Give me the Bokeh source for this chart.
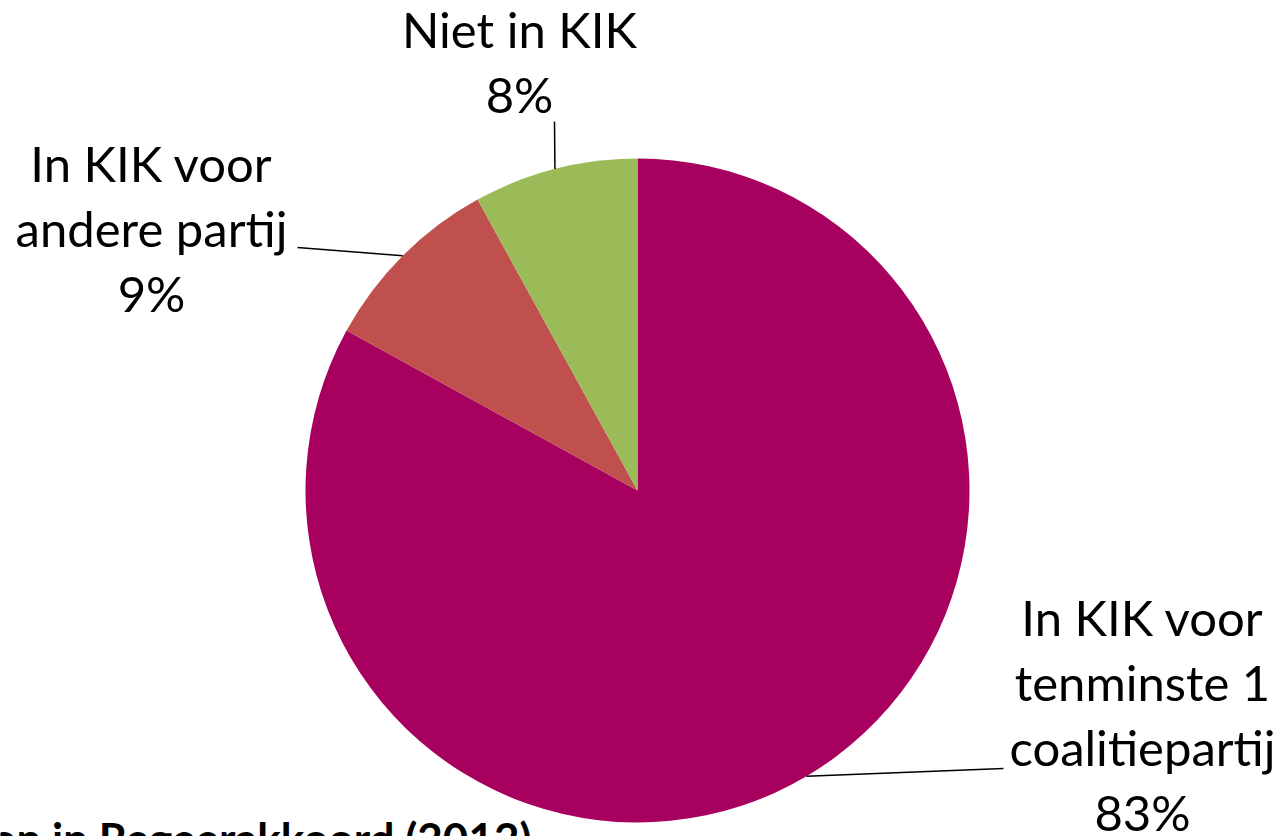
import math
from bokeh.plotting import figure
from bokeh.models import Range1d, ColumnDataSource
from bokeh.core.properties import value
from bokeh.embed import file_html
from bokeh.resources import INLINE

# ---- data ----
categories = ["In KIK voor\ntenminste 1\ncoalitiepartij", "In KIK voor\nandere partij", "Niet in KIK"]
values = [83, 9, 8]
colors = ["#A8005F", "#C0504D", "#9BBB59"]
footer = "on in Regeerakkoord (2012)"

# ---- layout (reference pixel coordinates) ----
W, H = 1282, 836
def Y(ref_y):
    return H - ref_y

cx, cy, R = 637, Y(490), 332
label_anchor = [(1142, 616), (151, 162), (519, 28)]   # center x, first line y
leader_end = [(1003, 768), (297, 247), (554, 121)]
line_h = 65
FONT = "Lato"
FS = "49px"

p = figure(width=W, height=H, x_range=Range1d(0, W), y_range=Range1d(0, H),
           output_backend="svg", toolbar_location=None, min_border=0,
           outline_line_color=None, background_fill_color="white")
p.axis.visible = False
p.grid.visible = False

total = float(sum(values))
starts, ends, mids = [], [], []
acc = 0.0
for v in values:
    a0 = math.pi / 2 - 2 * math.pi * acc / total
    a1 = math.pi / 2 - 2 * math.pi * (acc + v) / total
    starts.append(a0); ends.append(a1); mids.append((a0 + a1) / 2)
    acc += v

src = ColumnDataSource(dict(start=starts, end=ends, color=colors))
p.wedge(x=cx, y=cy, radius=R, start_angle="start", end_angle="end", direction="clock",
        fill_color="color", line_color=None, source=src)

# leader lines
lx0, ly0, lx1, ly1 = [], [], [], []
for m, (ex, ey) in zip(mids, leader_end):
    lx0.append(cx + R * math.cos(m)); ly0.append(cy + R * math.sin(m))
    lx1.append(ex); ly1.append(Y(ey))
p.segment(x0=lx0, y0=ly0, x1=lx1, y1=ly1, line_color="black", line_width=1.5)

# labels
tx, ty, tt = [], [], []
for cat, v, (ax, ay) in zip(categories, values, label_anchor):
    lines = cat.split("\n") + [f"{v}%"]
    for i, ln in enumerate(lines):
        tx.append(ax); ty.append(Y(ay + i * line_h)); tt.append(ln)
p.text(x=tx, y=ty, text=tt, text_font=value(FONT), text_font_size=FS,
       text_align="center", text_baseline="alphabetic", text_color="black")

# footer (cut off by page edge)
p.text(x=[531], y=[Y(837)], text=[footer], text_font=value(FONT), text_font_size="44px",
       text_font_style="bold", text_align="right", text_baseline="alphabetic", text_color="black")

open("out.html", "w").write(file_html(p, INLINE))
